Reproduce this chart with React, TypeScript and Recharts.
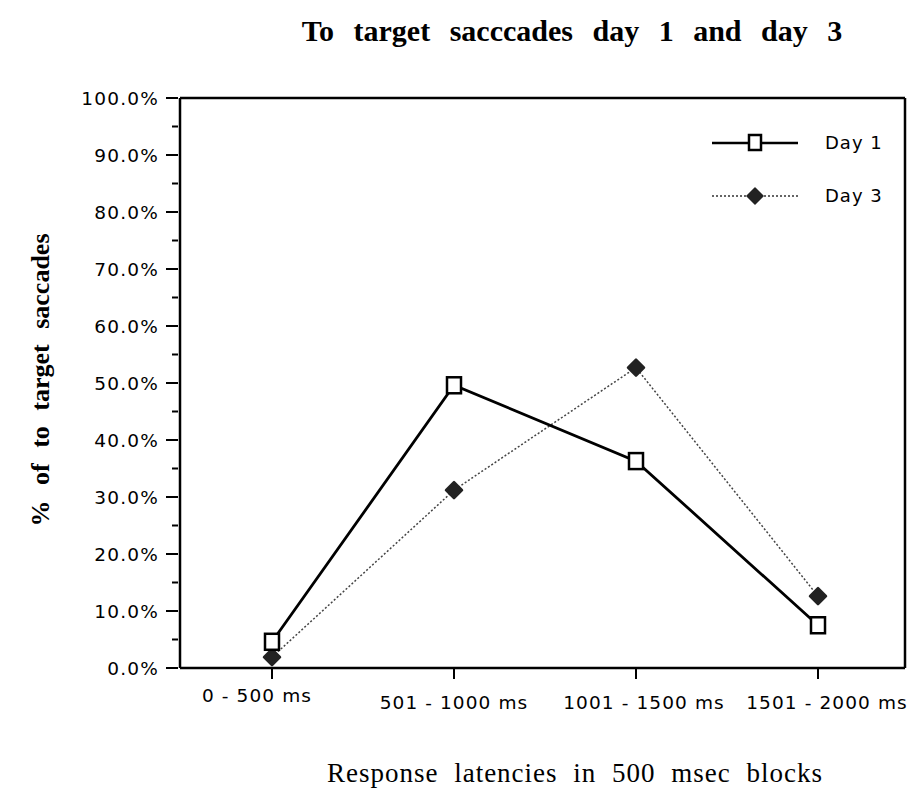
import React from "react";
import { LineChart, Line, XAxis, YAxis, Legend } from "recharts";

const categories = ["0 - 500 ms", "501 - 1000 ms", "1001 - 1500 ms", "1501 - 2000 ms"];
const day1 = [4.6, 49.6, 36.3, 7.5];
const day3 = [1.9, 31.2, 52.7, 12.6];
const yTicks = [0, 5, 10, 15, 20, 25, 30, 35, 40, 45, 50, 55, 60, 65, 70, 75, 80, 85, 90, 95, 100];
const seriesNames = ["Day 1", "Day 3"];

const data = categories.map((c, i) => ({ cat: c, d1: day1[i], d3: day3[i] }));

const TICK_FONT = "'DejaVu Sans', Verdana, sans-serif";
const SERIF = "'Liberation Serif', 'Times New Roman', serif";
const X_LABEL_DX = [-15, 0, 8, 9];
const X_LABEL_DY = [26, 33, 33, 33];

const YTick = (props: any) => {
  const { x, y, payload } = props;
  const v = payload.value as number;
  const major = v % 10 === 0;
  return (
    <g>
      <line x1={x + 10 - (major ? 12 : 6)} x2={x + 10} y1={y} y2={y} stroke="#000" strokeWidth={2} />
      {major && (
        <text x={x - 9} y={y} dy={7} textAnchor="end" fontFamily={TICK_FONT} fontSize={18.5} letterSpacing={1.2} fill="#000">
          {v.toFixed(1) + "%"}
        </text>
      )}
    </g>
  );
};

const XTick = (props: any) => {
  const { x, y, payload, index } = props;
  return (
    <g>
      <line x1={x} x2={x} y1={y - 8} y2={y + 3} stroke="#000" strokeWidth={2} />
      <text x={x + (X_LABEL_DX[index] || 0)} y={y} dy={X_LABEL_DY[index] || 33} textAnchor="middle" fontFamily={TICK_FONT} fontSize={18.5} letterSpacing={1.1} fill="#000">
        {payload.value}
      </text>
    </g>
  );
};

const SquareDot = (props: any) => {
  const { cx, cy, index } = props;
  if (cx == null || cy == null) return <g key={"s" + index} />;
  return <rect key={"s" + index} x={cx - 7} y={cy - 8} width={14} height={16} fill="#fff" stroke="#000" strokeWidth={2.5} />;
};

const DiamondDot = (props: any) => {
  const { cx, cy, index } = props;
  if (cx == null || cy == null) return <g key={"d" + index} />;
  return (
    <polygon
      key={"d" + index}
      points={`${cx},${cy - 8} ${cx + 8},${cy} ${cx},${cy + 8} ${cx - 8},${cy}`}
      fill="#222"
      stroke="#222"
      strokeWidth={2.5}
      strokeLinejoin="round"
    />
  );
};

const LegendContent = () => (
  <svg width={200} height={110}>
    <g>
      <line x1={2} x2={88} y1={20} y2={20} stroke="#000" strokeWidth={2.5} />
      <rect x={39} y={12} width={12} height={15} fill="#fff" stroke="#000" strokeWidth={2.5} />
      <text x={115} y={26} fontFamily={TICK_FONT} fontSize={18} letterSpacing={1} fill="#000">{seriesNames[0]}</text>
    </g>
    <g>
      <line x1={2} x2={88} y1={73} y2={73} stroke="#333" strokeWidth={1.5} strokeDasharray="2 2" />
      <polygon points="45,65 53,73 45,81 37,73" fill="#222" stroke="#222" strokeWidth={1.5} strokeLinejoin="round" />
      <text x={115} y={79} fontFamily={TICK_FONT} fontSize={18} letterSpacing={1} fill="#000">{seriesNames[1]}</text>
    </g>
  </svg>
);

export default function App() {
  return (
    <div style={{ position: "absolute", left: 0, top: 0, width: 916, height: 799, background: "#fff" }}>
      <svg width={916} height={799} style={{ position: "absolute", left: 0, top: 0 }}>
        <text x={572} y={41} textAnchor="middle" fontFamily={SERIF} fontWeight="bold" fontSize={30} wordSpacing={12} fill="#000">
          To target sacccades day 1 and day 3
        </text>
        <text x={575} y={782} textAnchor="middle" fontFamily={SERIF} fontSize={27} letterSpacing={1} wordSpacing={8} fill="#000">
          Response latencies in 500 msec blocks
        </text>
        <text
          transform="translate(49,380) rotate(-90)"
          textAnchor="middle"
          fontFamily={SERIF}
          fontWeight="bold"
          fontSize={26}
          wordSpacing={9}
          fill="#000"
        >
          % of to target saccades
        </text>
      </svg>
      <div style={{ position: "absolute", left: 0, top: 0 }}>
        <LineChart width={916} height={799} data={data} margin={{ top: 97, right: 10, left: 0, bottom: 0 }}>
          <XAxis
            dataKey="cat"
            xAxisId="b"
            height={131}
            padding={{ left: 92, right: 87 }}
            axisLine={{ stroke: "#000", strokeWidth: 2.5 }}
            tickLine={false}
            tick={<XTick />}
            interval={0}
          />
          <XAxis dataKey="cat" xAxisId="t" orientation="top" height={1} tick={false} tickLine={false} axisLine={{ stroke: "#000", strokeWidth: 2.5 }} padding={{ left: 92, right: 87 }} />
          <YAxis
            yAxisId="l"
            width={180}
            domain={[0, 100]}
            ticks={yTicks}
            interval={0}
            axisLine={{ stroke: "#000", strokeWidth: 2.5 }}
            tickLine={false}
            tickSize={10}
            tick={<YTick />}
          />
          <YAxis yAxisId="r" orientation="right" width={1} domain={[0, 100]} tick={false} tickLine={false} axisLine={{ stroke: "#000", strokeWidth: 2.5 }} />
          <Legend
            layout="horizontal"
            verticalAlign="middle"
            align="center"
            content={<LegendContent />}
            wrapperStyle={{ position: "absolute", left: 710, top: 123, width: 200 }}
          />
          <Line
            xAxisId="t"
            yAxisId="r"
            dataKey="d3"
            name={seriesNames[1]}
            stroke="#444"
            strokeWidth={1.5}
            strokeDasharray="2 2"
            dot={<DiamondDot />}
            isAnimationActive={false}
          />
          <Line
            xAxisId="b"
            yAxisId="l"
            dataKey="d1"
            name={seriesNames[0]}
            stroke="#000"
            strokeWidth={2.8}
            dot={<SquareDot />}
            isAnimationActive={false}
          />
        </LineChart>
      </div>
    </div>
  );
}
